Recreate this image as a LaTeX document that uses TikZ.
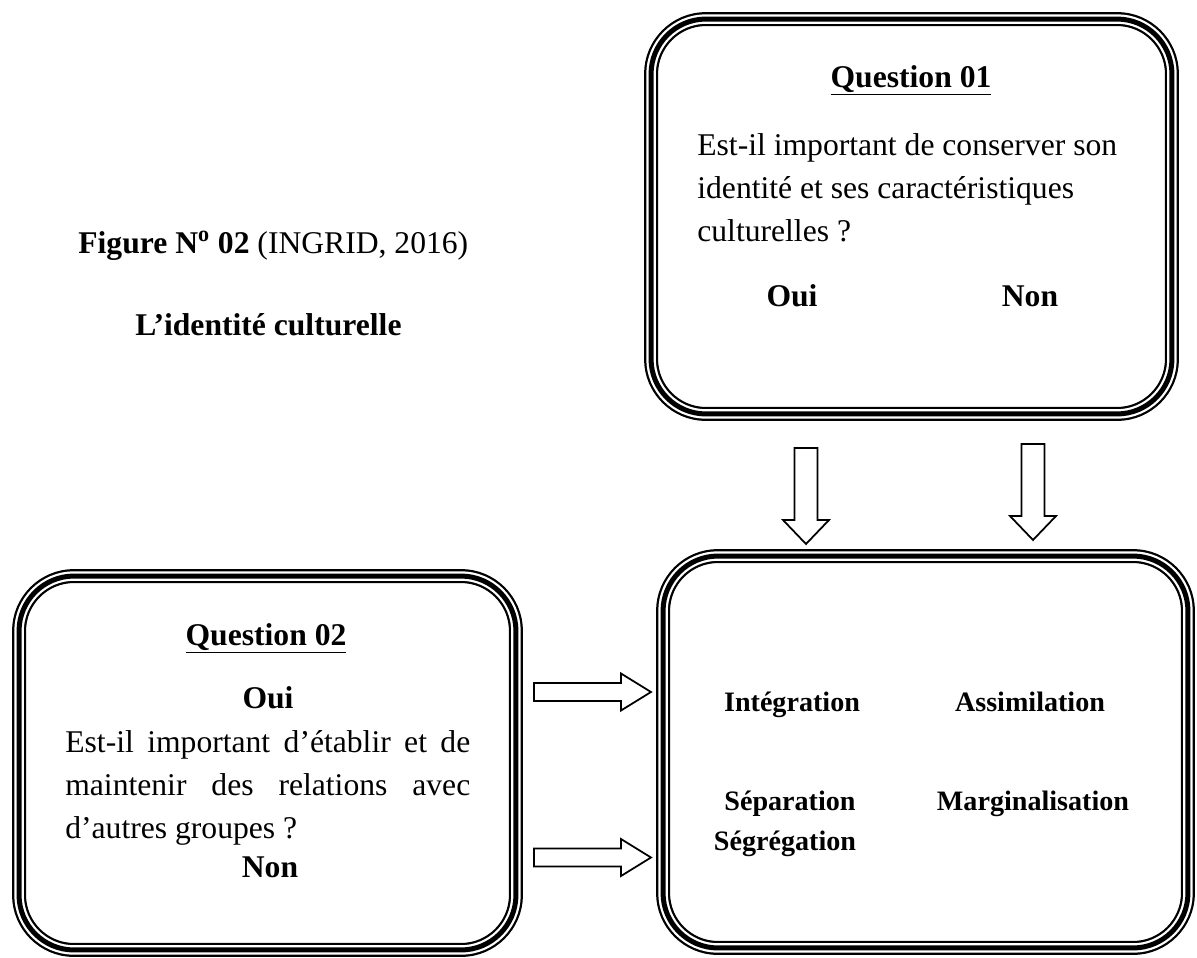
\documentclass[tikz,border=0pt]{standalone}
\usepackage{fontspec}
\setmainfont{Liberation Serif}
\usetikzlibrary{positioning}

\begin{document}
\begin{tikzpicture}[
        x=0.02cm, y=-0.02cm,
        font=\fontsize{18}{24.4}\selectfont,
        tribox/.style={rounded corners=1.1cm, draw, line width=0.28cm,
                       inner sep=0pt,
                       postaction={draw=white, line width=0.19cm},
                       postaction={draw=black, line width=0.1cm}},
        blockarrow/.style={draw, line width=1pt, fill=white, line join=miter},
        bold/.style={font=\fontsize{18}{24.4}\selectfont\bfseries},
        result/.style={font=\fontsize{16}{20}\selectfont\bfseries},
      ]
        \useasboundingbox (0,0) rectangle (1197,957);

        % the three framed boxes
        \node[tribox, minimum width=10.42cm, minimum height=7.9cm] (q1) at (911.5,216.5) {};
        \node[tribox, minimum width=9.94cm, minimum height=7.48cm] (q2) at (267.5,763) {};
        \node[tribox, minimum width=10.5cm, minimum height=7.84cm] (res) at (925.5,752) {};

        % title
        \node[anchor=base west, inner sep=0pt] (fig) at (78,253)
          {\textbf{Figure N\textsuperscript{o} 02} (INGRID, 2016)};
        \node[bold, anchor=base west, inner sep=0pt] (title) at (135,335) {L’identité culturelle};

        % question 01
        \node[bold, anchor=base, inner sep=0pt] (q1head) at (911,87) {\underline{Question 01}};
        \node[anchor=base west, inner sep=0pt] (q1l1) at (697,155) {Est-il important de conserver son};
        \node[anchor=base west, inner sep=0pt] (q1l2) at (697,198) {identité et ses caractéristiques};
        \node[anchor=base west, inner sep=0pt] (q1l3) at (697,241) {culturelles ?};
        \node[bold, anchor=base, inner sep=0pt] (q1oui) at (792,306) {Oui};
        \node[bold, anchor=base, inner sep=0pt] (q1non) at (1030,306) {Non};

        % question 02
        \node[bold, anchor=base, inner sep=0pt] (q2head) at (266,645) {\underline{Question 02}};
        \node[bold, anchor=base, inner sep=0pt] (q2oui) at (268,708) {Oui};
        \node[anchor=north west, inner sep=0pt, text width=8.1cm, align=justify] (q2text) at (65,730)
          {Est-il important d’établir et de\linebreak
           maintenir des relations avec\linebreak
           d’autres groupes ?};
        \node[bold, anchor=base, inner sep=0pt] (q2non) at (270,877) {Non};

        % results
        \node[result, anchor=base, inner sep=0pt] (integ) at (792,711) {Intégration};
        \node[result, anchor=base, inner sep=0pt] (assim) at (1030,711) {Assimilation};
        \node[result, anchor=base, inner sep=0pt] (separ) at (790,810) {Séparation};
        \node[result, anchor=base, inner sep=0pt] (margi) at (1033,810) {Marginalisation};
        \node[result, anchor=base, inner sep=0pt] (segre) at (785,850) {Ségrégation};

        % block arrows
        \foreach \x/\t/\b in {806/448/544, 1033/444/540} {
          \draw[blockarrow] (\x-11.5,\t) -- (\x+11.5,\t) -- (\x+11.5,\b-24)
            -- (\x+23,\b-24) -- (\x,\b) -- (\x-23,\b-24) -- (\x-11.5,\b-24) -- cycle;
        }
        \foreach \y in {692, 857.5} {
          \draw[blockarrow] (534,\y-9) -- (621,\y-9) -- (621,\y-18.5)
            -- (651,\y) -- (621,\y+18.5) -- (621,\y+9) -- (534,\y+9) -- cycle;
        }
      \end{tikzpicture}
\end{document}
